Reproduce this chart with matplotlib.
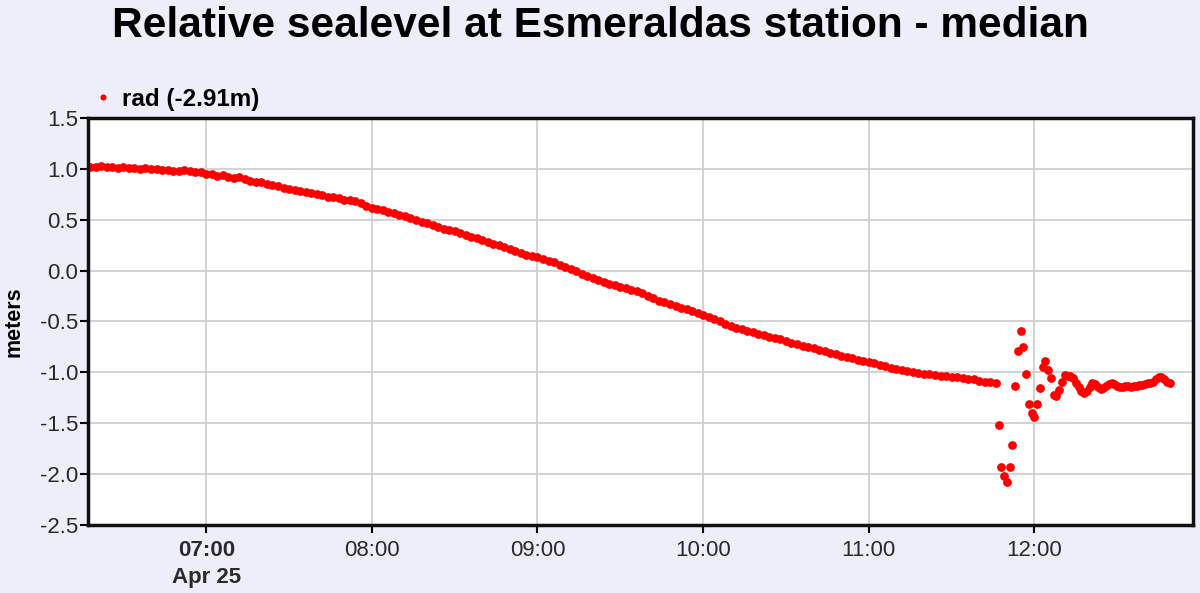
import matplotlib
matplotlib.use("Agg")
import matplotlib.pyplot as plt
import numpy as np
import datetime as dt

plt.rcParams["font.family"] = "Liberation Sans"

# sea level (m)
# smooth fall, one sample every 2 minutes from 06:18 to 11:46
start_smooth = dt.datetime(2016, 4, 25, 6, 18)
smooth_level = [
    1.02, 1.02, 1.03, 1.02, 1.02, 1.01, 1.02, 1.01, 1.01, 1.00,
    1.01, 1.00, 1.00, 0.99, 0.99, 0.98, 0.98, 0.99, 0.98, 0.97,
    0.97, 0.95, 0.95, 0.93, 0.94, 0.92, 0.91, 0.92, 0.90, 0.88,
    0.87, 0.87, 0.85, 0.84, 0.83, 0.81, 0.80, 0.79, 0.78, 0.77,
    0.76, 0.75, 0.74, 0.72, 0.72, 0.71, 0.69, 0.69, 0.68, 0.66,
    0.64, 0.62, 0.61, 0.60, 0.58, 0.57, 0.55, 0.54, 0.52, 0.50,
    0.48, 0.47, 0.45, 0.43, 0.41, 0.40, 0.39, 0.37, 0.35, 0.33,
    0.32, 0.30, 0.28, 0.26, 0.25, 0.23, 0.21, 0.19, 0.17, 0.15,
    0.14, 0.13, 0.11, 0.09, 0.08, 0.06, 0.04, 0.02, 0.00, -0.03,
    -0.05, -0.07, -0.09, -0.11, -0.13, -0.14, -0.16, -0.17, -0.19, -0.20,
    -0.22, -0.25, -0.27, -0.30, -0.31, -0.33, -0.35, -0.37, -0.38, -0.40,
    -0.42, -0.44, -0.46, -0.48, -0.50, -0.52, -0.54, -0.56, -0.57, -0.59,
    -0.60, -0.62, -0.63, -0.65, -0.66, -0.67, -0.69, -0.71, -0.72, -0.74,
    -0.75, -0.76, -0.78, -0.79, -0.81, -0.82, -0.84, -0.85, -0.86, -0.88,
    -0.89, -0.90, -0.91, -0.93, -0.94, -0.96, -0.97, -0.98, -0.99, -1.00,
    -1.01, -1.02, -1.02, -1.03, -1.04, -1.04, -1.05, -1.05, -1.06, -1.07,
    -1.07, -1.08, -1.09, -1.09, -1.10,
]

# tsunami arrival and tail, one sample a minute from 11:47 to 12:49
start_wave = dt.datetime(2016, 4, 25, 11, 47)
wave_level = [
    -1.52, -1.93, -2.02, -2.08, -1.93, -1.71, -1.13, -0.79, -0.59, -0.75,
    -1.02, -1.31, -1.40, -1.44, -1.31, -1.15, -0.95, -0.89, -0.98, -1.06,
    -1.22, -1.23, -1.17, -1.09, -1.03, -1.04, -1.04, -1.06, -1.10, -1.14,
    -1.18, -1.20, -1.18, -1.14, -1.10, -1.11, -1.14, -1.16, -1.15, -1.13,
    -1.11, -1.10, -1.11, -1.13, -1.14, -1.14, -1.13, -1.13, -1.14, -1.13,
    -1.13, -1.12, -1.12, -1.11, -1.10, -1.10, -1.09, -1.07, -1.05, -1.05,
    -1.07, -1.09, -1.10,
]

smooth_time = [start_smooth + dt.timedelta(minutes=2 * i) for i in range(len(smooth_level))]
wave_time = [start_wave + dt.timedelta(minutes=i) for i in range(len(wave_level))]

bg = "#eeeefa"
fig = plt.figure(figsize=(12, 5.93), dpi=100, facecolor=bg)
ax = fig.add_axes([0.0735, 0.1147, 0.921, 0.6863])

ax.plot(smooth_time + wave_time, smooth_level + wave_level, "o", color="#ff0000",
        markersize=6.3, markeredgewidth=0, label="rad (-2.91m)")

ax.set_xlim(dt.datetime(2016, 4, 25, 6, 17, 15), dt.datetime(2016, 4, 25, 12, 57, 36))
ax.set_ylim(-2.5, 1.5)
ax.set_yticks(np.arange(-2.5, 1.51, 0.5))
ax.yaxis.set_major_formatter(plt.FormatStrFormatter("%.1f"))

hours = [dt.datetime(2016, 4, 25, h) for h in range(7, 13)]
ax.set_xticks(hours)
ax.set_xticklabels(["07:00\nApr 25", "08:00", "09:00", "10:00", "11:00", "12:00"],
                   linespacing=1.35)
ax.get_xticklabels()[0].set_fontweight("bold")

ax.grid(True, color="#d0d0d0", linewidth=1.3)
ax.set_axisbelow(True)
for s in ax.spines.values():
    s.set_linewidth(2.5)
    s.set_color("#111111")
ax.tick_params(axis="both", direction="out", length=6, width=1.5,
               labelsize=16, labelcolor="#2a2a2a", pad=1)
ax.tick_params(axis="x", pad=5)

ax.set_ylabel("meters", fontsize=15.5, fontweight="bold", labelpad=11)
fig.suptitle("Relative sealevel at Esmeraldas station - median", fontsize=30.5,
             fontweight="bold", y=0.99)

ax.legend(loc="lower left", bbox_to_anchor=(-0.012, 0.985), frameon=False,
          prop={"weight": "bold", "size": 17.5},
          handletextpad=0.2, markerscale=0.7, borderaxespad=0.15, handlelength=1.2)

fig.savefig("out.png", dpi=100, facecolor=bg)
